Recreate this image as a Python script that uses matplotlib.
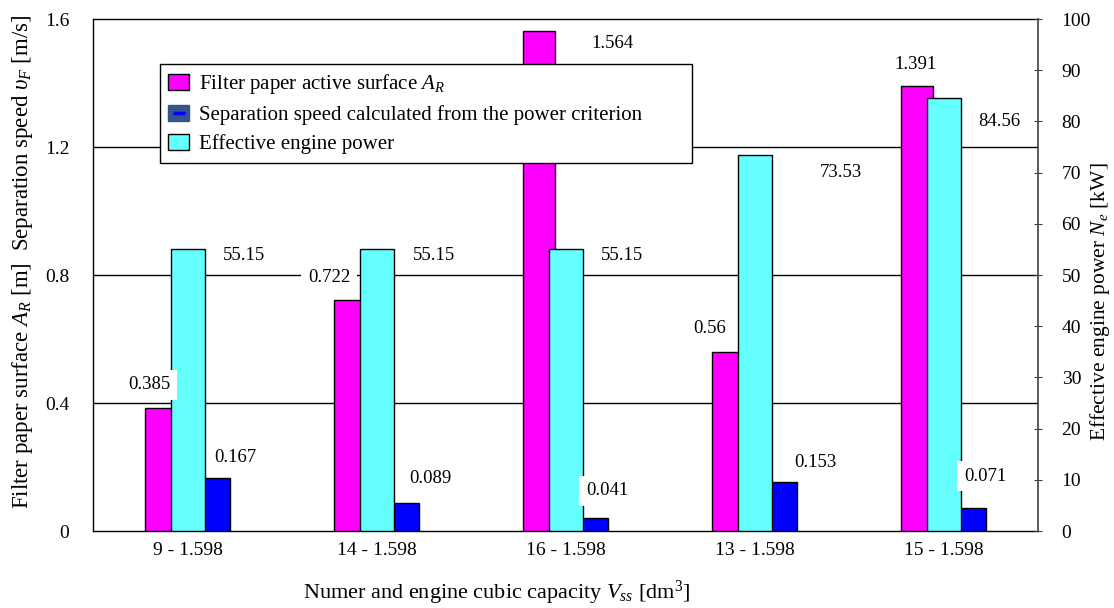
import matplotlib
matplotlib.use("Agg")
import matplotlib.pyplot as plt
import numpy as np
from matplotlib.patches import Patch
from matplotlib.lines import Line2D
from matplotlib.legend_handler import HandlerTuple

plt.rcParams['font.family'] = ['Liberation Serif', 'DejaVu Serif']
plt.rcParams['mathtext.fontset'] = 'custom'
plt.rcParams['mathtext.rm'] = 'Liberation Serif'
plt.rcParams['mathtext.it'] = 'Liberation Serif:italic'
plt.rcParams['font.size'] = 14

categories = ["9 - 1.598", "14 - 1.598", "16 - 1.598", "13 - 1.598", "15 - 1.598"]
filter_surface = [0.385, 0.722, 1.564, 0.56, 1.391]
separation_speed = [0.167, 0.089, 0.041, 0.153, 0.071]
engine_power = [55.15, 55.15, 55.15, 73.53, 84.56]
filter_labels = ["0.385", "0.722", "1.564", "0.56", "1.391"]
speed_labels = ["0.167", "0.089", "0.041", "0.153", "0.071"]
power_labels = ["55.15", "55.15", "55.15", "73.53", "84.56"]

# label offsets (pixels) relative to bar top centre
filter_off = [(-12, 23), (-21, 22), (73, -13), (-18, 23), (-2, 21)]
speed_off = [(21, 20), (27, 24), (15, 27), (34, 20), (15, 32)]
power_off = [(57, -7), (57, -7), (57, -7), (86, -18), (56, -23)]

fig = plt.figure(figsize=(11.14, 6.08), dpi=100)
ax1 = fig.add_axes([93/1114, 77/608, 945/1114, 512/608])
ax2 = ax1.twinx()

x = np.arange(len(categories))
mag_c, blu_c, cyan_c = '#FF00FF', '#0000FF', '#66FFFF'

ax1.bar(x - 0.14, filter_surface, width=0.17, color=mag_c, edgecolor='black', linewidth=1, zorder=3)
ax1.bar(x + 0.14, separation_speed, width=0.17, color=blu_c, edgecolor='black', linewidth=1, zorder=3)
ax2.bar(x + 0.003, engine_power, width=0.178, color=cyan_c, edgecolor='black', linewidth=1, zorder=3)

ax1.set_xlim(-0.5, 4.5)
ax1.set_ylim(0, 1.6)
ax2.set_ylim(0, 100)
ax1.set_yticks([0, 0.4, 0.8, 1.2, 1.6])
ax1.set_yticklabels(["0", "0.4", "0.8", "1.2", "1.6"])
ax2.set_yticks(np.arange(0, 101, 10))
ax1.set_xticks(x)
ax1.set_xticklabels(categories)
for yv in [0.4, 0.8, 1.2]:
    ax1.axhline(yv, color='black', linewidth=1, zorder=1)

ax1.tick_params(axis='y', length=0, pad=17, labelsize=14)
ax1.tick_params(axis='x', length=0, pad=8, labelsize=14)
ax2.tick_params(axis='y', direction='inout', length=6, pad=14, color='#404040', labelsize=14)
for s in ['top', 'left', 'bottom']:
    ax1.spines[s].set_linewidth(1)
    ax2.spines[s].set_visible(False)
ax1.spines['right'].set_visible(False)
ax2.spines['right'].set_color('#404040')
ax2.spines['right'].set_linewidth(1.2)

ax1.set_ylabel(r"Filter paper surface $A_R$ [m]  Separation speed $\upsilon_F$ [m/s]",
               fontsize=16.5, va='center')
ax1.yaxis.set_label_coords(-0.075, 0.525)
ax2.set_ylabel(r"Effective engine power $N_e$ [kW]", fontsize=15.5, va='center')
ax2.yaxis.set_label_coords(1.0656, 0.447)
ax1.set_xlabel(r"Numer and engine cubic capacity $V_{ss}$ [dm$^3$]", fontsize=16, va='center')
ax1.xaxis.set_label_coords(0.4275, -0.121)

bb = dict(boxstyle='square,pad=0.35', fc='white', ec='none')
for i in range(len(categories)):
    ax2.annotate(filter_labels[i], xy=(x[i] - 0.14, filter_surface[i]), xycoords=ax1.transData,
                 xytext=filter_off[i], textcoords='offset pixels', ha='center', va='center',
                 bbox=bb, zorder=5, fontsize=13.5)
    ax2.annotate(speed_labels[i], xy=(x[i] + 0.14, separation_speed[i]), xycoords=ax1.transData,
                 xytext=speed_off[i], textcoords='offset pixels', ha='center', va='center',
                 bbox=bb, zorder=5, fontsize=13.5)
    ax2.annotate(power_labels[i], xy=(x[i], engine_power[i]), xycoords=ax2.transData,
                 xytext=power_off[i], textcoords='offset pixels', ha='center', va='center',
                 bbox=bb, zorder=5, fontsize=13.5)

h1 = Patch(facecolor=mag_c, edgecolor='black')
h2 = (Patch(facecolor='#34548c', edgecolor='#34548c'),
      Line2D([], [], color=blu_c, marker='_', linestyle='None', markersize=9, markeredgewidth=2.5))
h3 = Patch(facecolor=cyan_c, edgecolor='black')
leg = ax2.legend([h1, h2, h3],
                 [r"Filter paper active surface $A_R$",
                  "Separation speed calculated from the power criterion",
                  "Effective engine power"],
                 handler_map={tuple: HandlerTuple(ndivide=1, pad=0)},
                 loc='upper left', mode='expand',
                 bbox_to_anchor=(67/945, (531-162)/512, (692-160)/945, (162-64)/512),
                 borderaxespad=0,
                 fancybox=False, framealpha=1, edgecolor='black', fontsize=15,
                 handlelength=1.0, handleheight=0.8, handletextpad=0.45,
                 labelspacing=0.42, borderpad=0.4)
leg.get_frame().set_linewidth(1)
leg.set_zorder(10)

fig.savefig("out.png", dpi=100)
